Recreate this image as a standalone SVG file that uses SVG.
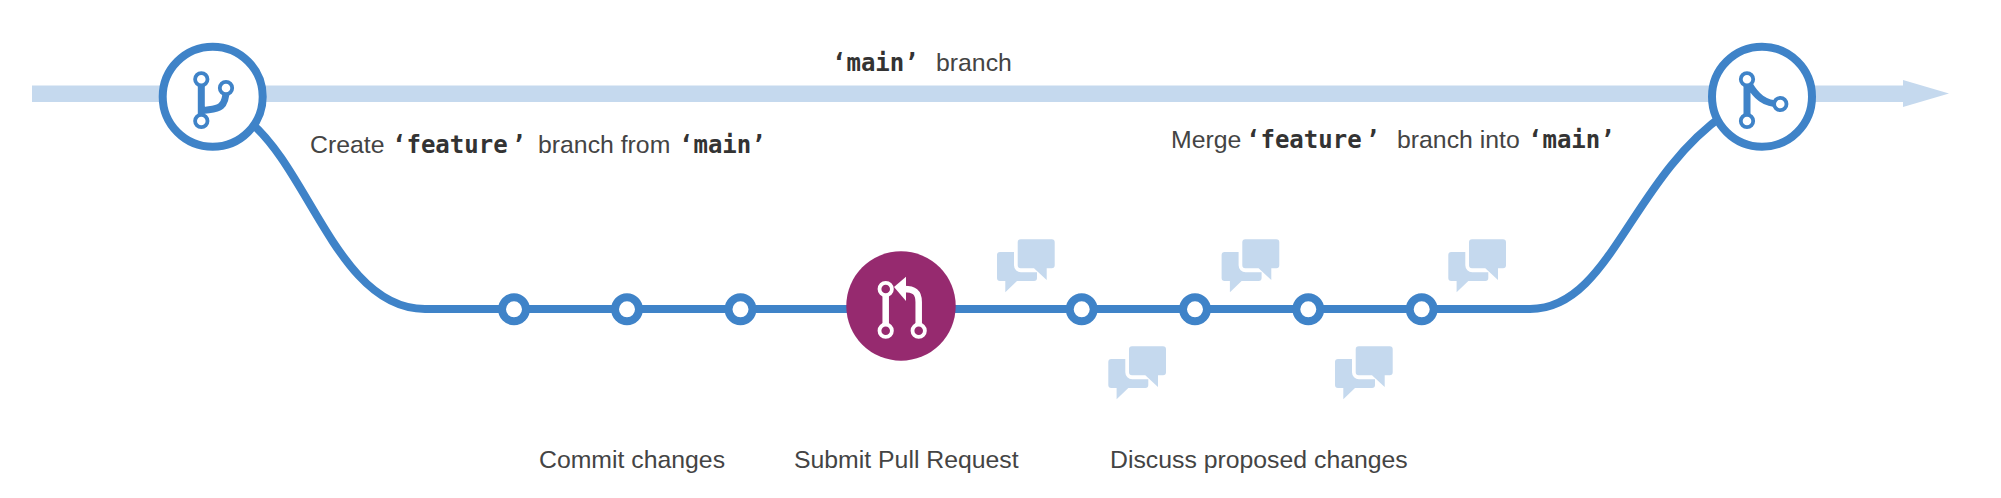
<svg xmlns="http://www.w3.org/2000/svg" width="2001" height="498" viewBox="0 0 2001 498">
<style>
.t{font-family:"Liberation Sans",Arial,sans-serif;font-size:24.800px;fill:#444}
.m{font-family:"DejaVu Sans Mono",monospace;font-size:24px;font-weight:bold;fill:#333}
.ln{fill:none;stroke:#3f83c8;stroke-width:8}
.ring{fill:#fff;stroke:#3f83c8;stroke-width:8}
.big{fill:#fff;stroke:#3f83c8;stroke-width:8}
.ic{fill:none;stroke:#3f83c8;stroke-width:7}
.icd{fill:#fff;stroke:#3f83c8;stroke-width:3.800}
.pr{fill:none;stroke:#fff;stroke-width:6.500}
.prd{fill:#962a6f;stroke:#fff;stroke-width:3.800}
.b{fill:#c5d9ee}
</style>
<defs>
<g id="chat">
<path class="b" d="M999 252H1034a3 3 0 0 1 3 3V278a3 3 0 0 1-3 3H1017L1005.300 292.300V281H1000a3 3 0 0 1-3-3V255a3 3 0 0 1 3-3z"/>
<path d="M1021 235.300H1051.700a7 7 0 0 1 7 7V265.300a7 7 0 0 1-7 7H1021a7 7 0 0 1-7-7V242.300a7 7 0 0 1 7-7z" fill="#fff"/>
<path class="b" d="M1020.700 239.300H1051.700a3 3 0 0 1 3 3V265.300a3 3 0 0 1-3 3H1046.700V280L1034 268.300H1020.700a3 3 0 0 1-3-3V242.300a3 3 0 0 1 3-3z"/>
</g>
</defs>
<g id="main-branch">
<rect class="b" x="32" y="85.500" width="1873" height="16.500"/>
<path class="b" d="M1903 80L1949 93.500L1903 107z"/>
</g>
<g id="connectors">
<path class="ln" d="M250 122C310 172 340 309 425 309H1530C1610 309 1630 180 1725 114"/>
</g>
<g id="node-branch">
<circle class="big" cx="212.700" cy="96.700" r="50"/>
<path class="ic" d="M201.300 79V121M201.300 111C214 108 226 112 226 90"/>
<circle class="icd" cx="201.300" cy="79.300" r="6.200"/>
<circle class="icd" cx="201.300" cy="121" r="6.200"/>
<circle class="icd" cx="226" cy="88" r="6.200"/>
</g>
<g id="node-merge">
<circle class="big" cx="1762" cy="96.700" r="50"/>
<path class="ic" d="M1747 79V121M1749 84C1756 96 1764 104 1780 104"/>
<circle class="icd" cx="1747" cy="79.300" r="6.200"/>
<circle class="icd" cx="1747" cy="121" r="6.200"/>
<circle class="icd" cx="1780.300" cy="104" r="6.200"/>
</g>
<g id="commit-1"><circle class="ring" cx="514" cy="309.300" r="12"/></g>
<g id="commit-2"><circle class="ring" cx="627" cy="309.300" r="12"/></g>
<g id="commit-3"><circle class="ring" cx="740.500" cy="309.300" r="12"/></g>
<g id="node-pull-request">
<circle cx="901" cy="306" r="54.700" fill="#962a6f"/>
<path class="pr" d="M885.700 289V331M918.700 331V302C918.700 292 914 289 904 289"/>
<path fill="#fff" d="M894 287L906 276.700V301z"/>
<circle class="prd" cx="885.700" cy="289" r="6.200"/>
<circle class="prd" cx="885.700" cy="330.700" r="6.200"/>
<circle class="prd" cx="918.700" cy="330.700" r="6.200"/>
</g>
<g id="commit-4"><circle class="ring" cx="1081.700" cy="309.300" r="12"/></g>
<g id="commit-5"><circle class="ring" cx="1195" cy="309.300" r="12"/></g>
<g id="commit-6"><circle class="ring" cx="1308.300" cy="309.300" r="12"/></g>
<g id="commit-7"><circle class="ring" cx="1421.700" cy="309.300" r="12"/></g>
<g id="chat-1"><use href="#chat"/></g>
<g id="chat-2"><use href="#chat" x="111.300" y="107"/></g>
<g id="chat-3"><use href="#chat" x="224.600"/></g>
<g id="chat-4"><use href="#chat" x="338" y="107"/></g>
<g id="chat-5"><use href="#chat" x="451.300"/></g>
<g id="label-main">
<text class="m" x="832" y="70.700">‘main’</text>
<text class="t" x="936" y="70.700">branch</text>
</g>
<g id="label-create">
<text class="t" x="310" y="153">Create</text>
<text class="m" x="392" y="153">‘feature<tspan dx="4">’</tspan></text>
<text class="t" x="538" y="153">branch from</text>
<text class="m" x="679" y="153">‘main’</text>
</g>
<g id="label-merge">
<text class="t" x="1171" y="148">Merge</text>
<text class="m" x="1246" y="148">‘feature<tspan dx="4">’</tspan></text>
<text class="t" x="1397" y="148">branch into</text>
<text class="m" x="1528" y="148">‘main’</text>
</g>
<text class="t" x="539" y="468">Commit changes</text>
<text class="t" x="794" y="468">Submit Pull Request</text>
<text class="t" x="1110" y="468">Discuss proposed changes</text>
</svg>
